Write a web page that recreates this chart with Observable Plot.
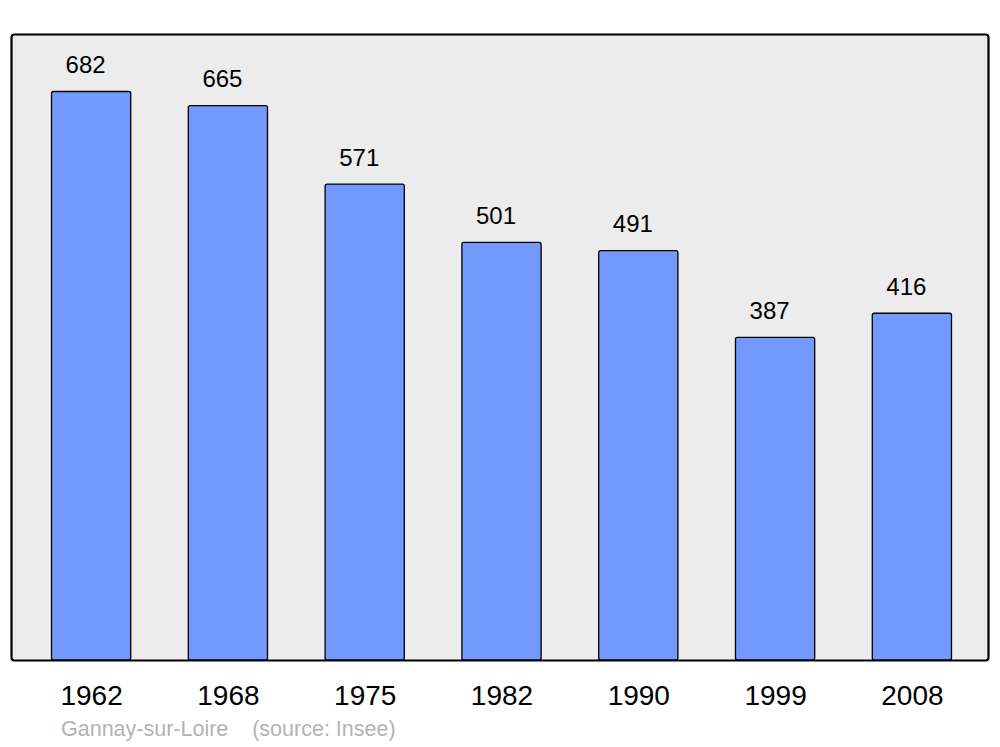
<!DOCTYPE html>
<html>
<head>
<meta charset="utf-8">
<script src="https://cdn.jsdelivr.net/npm/d3@7"></script>
<script src="https://cdn.jsdelivr.net/npm/@observablehq/plot@0.6"></script>
<style>
  html, body { margin: 0; padding: 0; background: #ffffff; }
  #chart { width: 1000px; font-family: "Liberation Sans", Arial, sans-serif; }
  #chart svg { display: block; }
  .caption { font-family: "Liberation Sans", Arial, sans-serif; font-size: 21.5px; color: #b3b3b3;
             white-space: pre; line-height: 30px; margin-top: 2px; padding-left: 61px; }
</style>
</head>
<body>
<div id="chart"></div>
<script>
const years = ["1962", "1968", "1975", "1982", "1990", "1999", "2008"];
const population = [682, 665, 571, 501, 491, 387, 416];
const commune = "Gannay-sur-Loire";
const source = "(source: Insee)";

const data = years.map((year, i) => ({year, value: population[i]}));

const plot = Plot.plot({
  width: 1000,
  height: 712,
  marginTop: 34,
  marginBottom: 52,
  marginLeft: 13,
  marginRight: 10,
  style: {fontFamily: "Liberation Sans, Arial, sans-serif", background: "transparent", overflow: "visible"},
  x: {domain: years, paddingInner: 0.421, paddingOuter: 0.2815, round: false, label: null},
  y: {domain: [0, 751], axis: null},
  marks: [
    Plot.frame({fill: "#ececec", stroke: "#000", strokeWidth: 2.2, rx: 3, insetLeft: -2, insetRight: 2}),
    Plot.barY(data, {x: "year", y: "value", fill: "#7399ff", stroke: "#000", strokeWidth: 1.3, rx: 2}),
    Plot.text(data, {x: "year", y: "value", text: d => String(d.value), lineAnchor: "bottom", dy: -19, dx: -6, fontSize: 24, fill: "#000"}),
    Plot.axisX({tickSize: 0, tickPadding: 25, fontSize: 28, color: "#000", label: null})
  ]
});

document.getElementById("chart").appendChild(plot);
const cap = document.createElement("div");
cap.className = "caption";
cap.textContent = commune + "    " + source;
document.getElementById("chart").appendChild(cap);
</script>
</body>
</html>
